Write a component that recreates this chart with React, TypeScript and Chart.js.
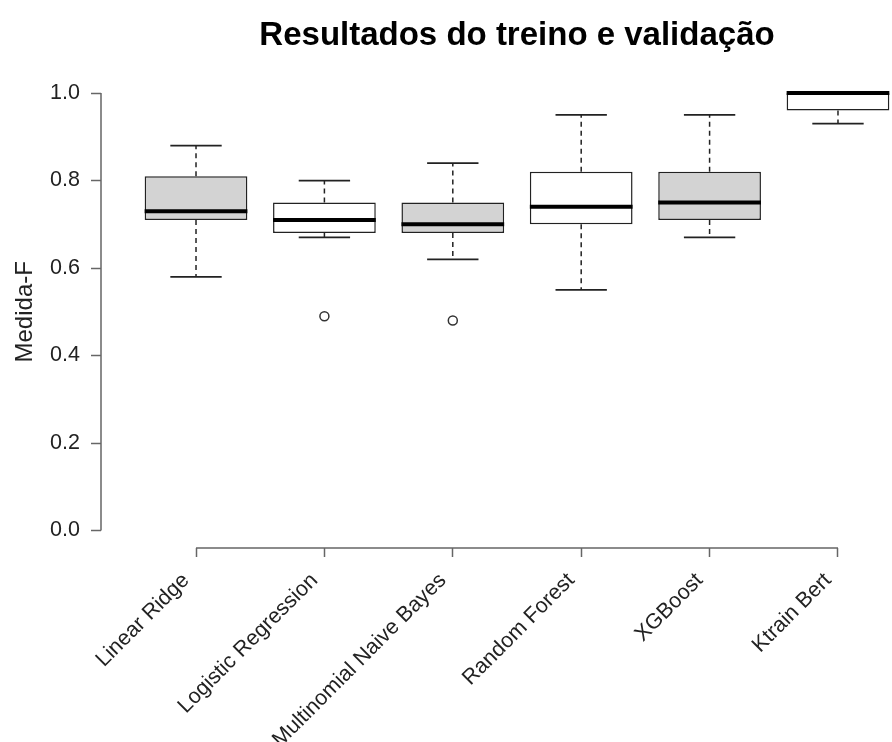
import React, { useEffect, useRef } from 'react';
import { Chart, registerables } from 'chart.js';

Chart.register(...registerables);

// ---- data ----
const categories = [
  'Linear Ridge',
  'Logistic Regression',
  'Multinomial Naive Bayes',
  'Random Forest',
  'XGBoost',
  'Ktrain Bert',
];
const whiskerLow = [0.58, 0.67, 0.62, 0.55, 0.67, 0.93];
const q1 = [0.71, 0.68, 0.68, 0.7, 0.71, 0.96];
const median = [0.73, 0.71, 0.7, 0.74, 0.75, 1.0];
const q3 = [0.81, 0.75, 0.75, 0.82, 0.82, 1.0];
const whiskerHigh = [0.88, 0.8, 0.84, 0.95, 0.95, 1.0];
const outlierCategory = [2, 3];
const outlierValue = [0.49, 0.48];
const yTicks = [0, 0.2, 0.4, 0.6, 0.8, 1.0];
const chartTitle = 'Resultados do treino e validação';
const yLabel = 'Medida-F';

// ---- styles ----
const boxFills = ['#d3d3d3', '#ffffff', '#d3d3d3', '#ffffff', '#d3d3d3', '#ffffff'];
const FONT = '"Liberation Sans", Arial, Helvetica, sans-serif';
const AXIS_COLOR = '#666666';
const LINE_COLOR = '#222222';

const boxPartsPlugin = {
  id: 'boxParts',
  afterDatasetsDraw(chart: any) {
    const ctx = chart.ctx;
    const xs = chart.scales.x;
    const ys = chart.scales.y;
    const meta = chart.getDatasetMeta(0);
    ctx.save();
    categories.forEach((_, i) => {
      const bar = meta.data[i];
      const cx = xs.getPixelForValue(i + 1);
      const half = bar.width / 2;
      const yLow = ys.getPixelForValue(whiskerLow[i]);
      const yQ1 = ys.getPixelForValue(q1[i]);
      const yQ3 = ys.getPixelForValue(q3[i]);
      const yHigh = ys.getPixelForValue(whiskerHigh[i]);
      const yMed = ys.getPixelForValue(median[i]);
      // dashed whiskers
      ctx.strokeStyle = LINE_COLOR;
      ctx.lineWidth = 1.5;
      ctx.setLineDash([5, 4]);
      ctx.beginPath();
      ctx.moveTo(cx, yQ3);
      ctx.lineTo(cx, yHigh);
      ctx.moveTo(cx, yQ1);
      ctx.lineTo(cx, yLow);
      ctx.stroke();
      // caps
      ctx.setLineDash([]);
      ctx.lineWidth = 1.8;
      ctx.beginPath();
      ctx.moveTo(cx - half / 2, yHigh);
      ctx.lineTo(cx + half / 2, yHigh);
      ctx.moveTo(cx - half / 2, yLow);
      ctx.lineTo(cx + half / 2, yLow);
      ctx.stroke();
      // median
      ctx.strokeStyle = '#000000';
      ctx.lineWidth = 4;
      ctx.beginPath();
      ctx.moveTo(cx - half, yMed);
      ctx.lineTo(cx + half, yMed);
      ctx.stroke();
    });
    // axis lines (R style: only between outer ticks)
    ctx.strokeStyle = AXIS_COLOR;
    ctx.lineWidth = 1.5;
    ctx.beginPath();
    const by = chart.chartArea.bottom;
    ctx.moveTo(xs.getPixelForValue(1), by);
    ctx.lineTo(xs.getPixelForValue(categories.length), by);
    const lx = chart.chartArea.left;
    ctx.moveTo(lx, ys.getPixelForValue(yTicks[0]));
    ctx.lineTo(lx, ys.getPixelForValue(yTicks[yTicks.length - 1]));
    ctx.stroke();
    ctx.restore();
  },
};

export default function App() {
  const ref = useRef<HTMLCanvasElement | null>(null);

  useEffect(() => {
    if (!ref.current) return;
    const chart = new Chart(ref.current, {
      type: 'bar',
      data: {
        datasets: [
          {
            type: 'bar',
            data: categories.map((_, i) => ({ x: i + 1, y: [q1[i], q3[i]] })) as any,
            backgroundColor: boxFills,
            borderColor: LINE_COLOR,
            borderWidth: 1.5,
            borderSkipped: false,
            categoryPercentage: 1,
            barPercentage: 0.8,
          } as any,
          {
            type: 'scatter',
            data: outlierCategory.map((c, i) => ({ x: c, y: outlierValue[i] })),
            pointRadius: 4.5,
            pointBorderWidth: 1.5,
            borderColor: '#333333',
            backgroundColor: 'rgba(255,255,255,0)',
            pointBackgroundColor: 'rgba(255,255,255,0)',
            pointBorderColor: '#333333',
          } as any,
        ],
      },
      options: {
        responsive: false,
        animation: false,
        devicePixelRatio: 1,
        layout: { padding: 0 },
        plugins: {
          legend: { display: false },
          tooltip: { enabled: false },
          title: {
            display: true,
            text: chartTitle,
            fullSize: false,
            color: '#000000',
            font: { family: FONT, size: 33, weight: 'bold' },
            padding: { top: 16, bottom: 20 },
          },
        },
        scales: {
          x: {
            type: 'linear',
            min: 0.26,
            max: 6.74,
            bounds: 'data',
            offset: false,
            afterBuildTicks: (s: any) => {
              s.ticks = categories.map((_, i) => ({ value: i + 1 }));
            },
            afterFit: (s: any) => {
              s.height = 194;
            },
            ticks: {
              autoSkip: false,
              minRotation: 45,
              maxRotation: 45,
              padding: 11,
              labelOffset: -10,
              color: '#222222',
              font: { family: FONT, size: 21.5 },
              callback: (v: any) => categories[Math.round(v) - 1],
            },
            grid: {
              display: true,
              offset: false,
              drawOnChartArea: false,
              drawTicks: true,
              tickLength: 9,
              tickColor: AXIS_COLOR,
              tickWidth: 1.5,
            },
            border: { display: false },
          },
          y: {
            type: 'linear',
            min: -0.04,
            max: 1.04,
            bounds: 'data',
            afterBuildTicks: (s: any) => {
              s.ticks = yTicks.map((v) => ({ value: v }));
            },
            afterFit: (s: any) => {
              s.width = 101;
            },
            ticks: {
              padding: 11,
              color: '#222222',
              font: { family: FONT, size: 21.5 },
              callback: (v: any) => Number(v).toFixed(1),
            },
            grid: {
              display: true,
              drawOnChartArea: false,
              drawTicks: true,
              tickLength: 10,
              tickColor: AXIS_COLOR,
              tickWidth: 1.5,
            },
            border: { display: false },
            title: {
              display: true,
              text: yLabel,
              color: '#222222',
              font: { family: FONT, size: 24 },
              padding: { top: 11, bottom: 0 },
            },
          },
        },
      } as any,
      plugins: [boxPartsPlugin],
    });
    return () => chart.destroy();
  }, []);

  return (
    <div
      style={{
        position: 'absolute',
        left: 0,
        top: 0,
        width: 892,
        height: 742,
        overflow: 'hidden',
        background: '#ffffff',
      }}
    >
      <canvas ref={ref} width={939} height={742} />
    </div>
  );
}
